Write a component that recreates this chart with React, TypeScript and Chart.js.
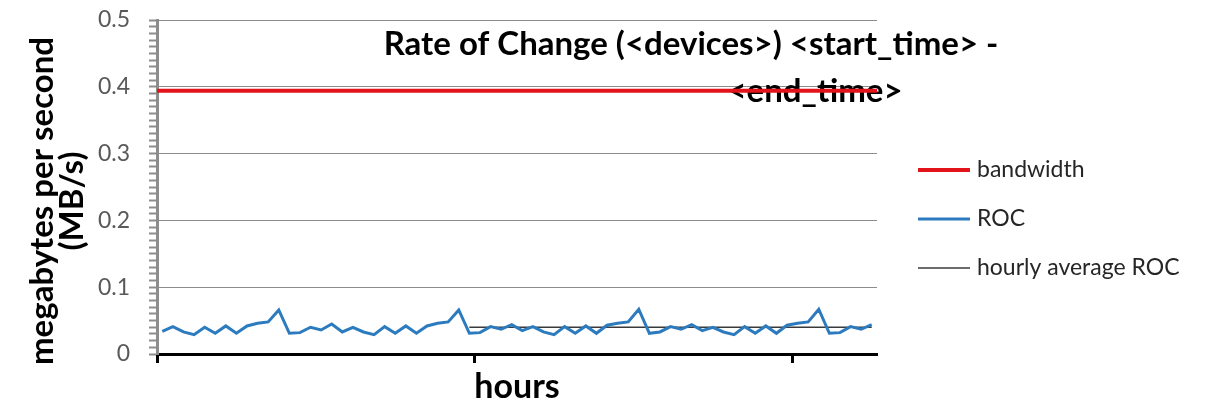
import React, { useEffect, useRef } from 'react';
import { Chart, registerables } from 'chart.js';

Chart.register(...registerables);

const FONT = 'Lato, "Open Sans", "DejaVu Sans", sans-serif';

const titleLines = ['Rate of Change (<devices>) <start_time> -', '<end_time>'];
const yAxisTitleLines = ['megabytes per second', '(MB/s)'];
const xAxisTitle = 'hours';
const seriesNames = ['bandwidth', 'ROC', 'hourly average ROC'];
const yTickLabels = ['0', '0.1', '0.2', '0.3', '0.4', '0.5'];
const categoryTickInterval = 30;

const bandwidthValues = [0.394, 0.394];

const rocValues = [
  0.034, 0.041, 0.033, 0.029, 0.040, 0.031, 0.042, 0.031, 0.042, 0.046,
  0.048, 0.066, 0.031, 0.032, 0.040, 0.036, 0.045, 0.033, 0.040, 0.033,
  0.029, 0.041, 0.031, 0.042, 0.031, 0.042, 0.046, 0.048, 0.066, 0.031,
  0.032, 0.041, 0.037, 0.044, 0.035, 0.041, 0.033, 0.029, 0.041, 0.031,
  0.042, 0.031, 0.043, 0.046, 0.048, 0.067, 0.031, 0.033, 0.041, 0.037,
  0.044, 0.035, 0.040, 0.033, 0.029, 0.041, 0.031, 0.042, 0.031, 0.043,
  0.046, 0.048, 0.067, 0.031, 0.032, 0.041, 0.037, 0.044,
];

const hourlyAverageRoc = [
  null, null, null, null, null, null, null, null, null, null,
  null, null, null, null, null, null, null, null, null, null,
  null, null, null, null, null, null, null, null, null, 0.040,
  0.040, 0.040, 0.040, 0.040, 0.040, 0.040, 0.040, 0.040, 0.040, 0.040,
  0.040, 0.040, 0.040, 0.040, 0.040, 0.040, 0.040, 0.040, 0.040, 0.040,
  0.040, 0.040, 0.040, 0.040, 0.040, 0.040, 0.040, 0.040, 0.040, 0.040,
  0.040, 0.040, 0.040, 0.040, 0.040, 0.040, 0.040, 0.040,
];

const COLORS = {
  bandwidth: '#e3131b',
  roc: '#2d7bbf',
  avg: '#3a3a3a',
  axisGray: '#8c8c8c',
  tickText: '#595959',
};

export default function App() {
  const canvasRef = useRef<HTMLCanvasElement | null>(null);

  useEffect(() => {
    document.body.style.margin = '0';
    const canvas = canvasRef.current;
    if (!canvas) return;

    const labels = rocValues.map((_, i) => String(i + 1));

    const overlay = {
      id: 'overlay',
      beforeDatasetsDraw(chart: any) {
        const ctx = chart.ctx;
        ctx.save();
        ctx.fillStyle = '#000';
        ctx.font = `bold 33px ${FONT}`;
        ctx.textAlign = 'center';
        ctx.textBaseline = 'middle';
        ctx.fillText(titleLines[0], 691, 44);
        ctx.fillText(titleLines[1], 815, 91);
        ctx.restore();
      },
      afterDraw(chart: any) {
        const ctx = chart.ctx;
        ctx.save();
        // y axis title
        ctx.fillStyle = '#000';
        ctx.font = `bold 33px ${FONT}`;
        ctx.textAlign = 'center';
        ctx.textBaseline = 'middle';
        ctx.translate(42, 201);
        ctx.rotate(-Math.PI / 2);
        ctx.fillText(yAxisTitleLines[0], 0, 0);
        ctx.fillText(yAxisTitleLines[1], 0, 30);
        ctx.restore();

        // legend
        ctx.save();
        chart.data.datasets.forEach((ds: any, i: number) => {
          const y = 170 + i * 49;
          ctx.strokeStyle = ds.borderColor;
          ctx.lineWidth = ds.borderWidth;
          ctx.beginPath();
          ctx.moveTo(918, y);
          ctx.lineTo(970, y);
          ctx.stroke();
          ctx.fillStyle = '#262626';
          ctx.font = `23px ${FONT}`;
          ctx.textAlign = 'left';
          ctx.textBaseline = 'middle';
          ctx.fillText(ds.label, 977, y);
        });
        ctx.restore();
      },
    };

    const chart = new Chart(canvas, {
      type: 'line',
      data: {
        labels,
        datasets: [
          {
            label: seriesNames[0],
            data: bandwidthValues.map((v, i) => ({ x: i / (bandwidthValues.length - 1), y: v })),
            xAxisID: 'x2',
            borderColor: COLORS.bandwidth,
            borderWidth: 4,
            pointRadius: 0,
          },
          {
            label: seriesNames[1],
            data: rocValues,
            borderColor: COLORS.roc,
            borderWidth: 3,
            pointRadius: 0,
            tension: 0,
          },
          {
            label: seriesNames[2],
            data: hourlyAverageRoc,
            borderColor: COLORS.avg,
            borderWidth: 1.5,
            pointRadius: 0,
          },
        ],
      } as any,
      plugins: [overlay],
      options: {
        animation: false,
        responsive: false,
        devicePixelRatio: 1,
        layout: { padding: { top: 20, right: 334, left: 0, bottom: 0 } },
        plugins: {
          legend: { display: false },
          title: { display: false },
          tooltip: { enabled: false },
        },
        scales: {
          x: {
            type: 'category',
            offset: true,
            grid: {
              offset: true,
              drawOnChartArea: false,
              drawTicks: true,
              tickLength: 9,
              tickWidth: 3,
              tickColor: (ctx: any) =>
                typeof ctx.index === 'number' && ctx.index % categoryTickInterval === 0 ? '#000' : 'rgba(0,0,0,0)',
            },
            border: { color: '#000', width: 3 },
            ticks: { autoSkip: false, maxRotation: 0, callback: () => '', font: { size: 1 } },
            title: {
              display: true,
              text: xAxisTitle,
              color: '#000',
              font: { family: FONT, size: 34, weight: 'bold', lineHeight: 1 },
              padding: { top: 0, bottom: 0 },
            },
            afterFit: (s: any) => {
              s.height = 50;
              s.paddingLeft = 0;
              s.paddingRight = 0;
            },
          },
          x2: { type: 'linear', min: 0, max: 1, display: false },
          y: {
            min: 0,
            max: 0.5,
            ticks: {
              stepSize: 0.01,
              autoSkip: false,
              color: COLORS.tickText,
              font: { family: FONT, size: 23 },
              padding: 19,
              callback: (v: any) => {
                const k = Math.round(Number(v) * 100);
                return k % 10 === 0 ? yTickLabels[k / 10] : '';
              },
            },
            grid: {
              color: (ctx: any) =>
                ctx.tick && Math.round(ctx.tick.value * 100) % 10 === 0 ? COLORS.axisGray : 'rgba(0,0,0,0)',
              lineWidth: 1,
              tickColor: COLORS.axisGray,
              tickLength: 8,
              tickWidth: 2,
            },
            border: { color: COLORS.axisGray, width: 3 },
            afterFit: (s: any) => {
              s.width = 157;
              s.paddingTop = 0;
              s.paddingBottom = 0;
            },
          },
        },
      } as any,
    });

    return () => chart.destroy();
  }, []);

  return (
    <div style={{ width: 1211, height: 404 }}>
      <canvas ref={canvasRef} width={1211} height={404} />
    </div>
  );
}
